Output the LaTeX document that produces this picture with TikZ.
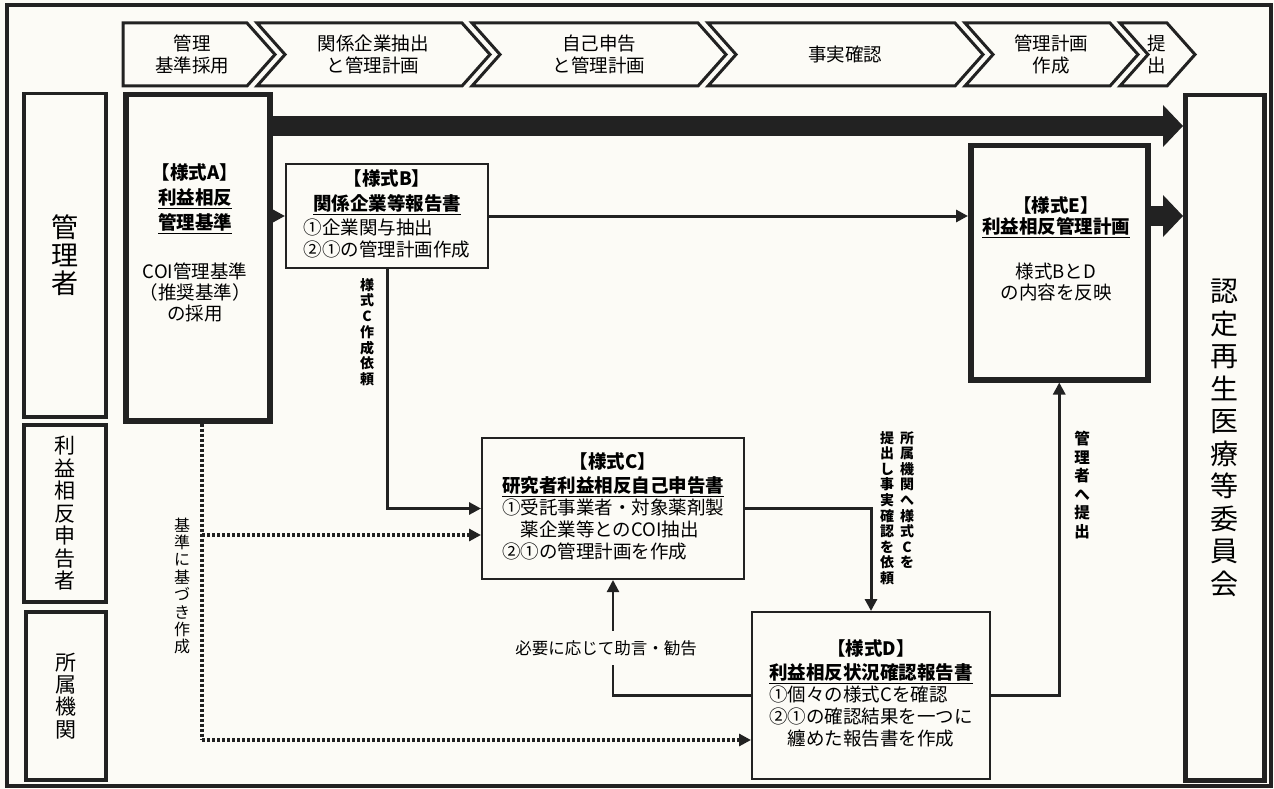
\documentclass[tikz,border=0pt]{standalone}
\usepackage{fontspec}
\setmainfont{Noto Sans CJK JP}
\usetikzlibrary{arrows.meta}
\definecolor{ink}{HTML}{222222}
\definecolor{paper}{HTML}{FCFBF6}

\begin{document}
\begin{tikzpicture}[x=1pt,y=-1pt,
  lane/.style={draw=ink,line width=3.5pt,fill=paper,inner sep=0pt,anchor=north west,align=center},
  formbox/.style={draw=ink,line width=2pt,fill=paper,anchor=north west,font=\fontsize{18.5}{21}\selectfont},
  heavybox/.style={draw=ink,line width=5.5pt,fill=paper,anchor=north west},
  chev/.style={draw=ink,line width=3pt,fill=paper,line join=miter},
  phase/.style={align=center,font=\fontsize{18.5}{22}\selectfont},
  tate/.style={align=center,inner sep=0pt},
  flow/.style={draw=ink,line width=3pt,-{Triangle[length=12pt,width=12pt]}},
  thinflow/.style={draw=ink,line width=2.2pt,-{Triangle[length=12pt,width=12pt]}},
  dotflow/.style={draw=ink,line width=3.4pt,dash pattern=on 3pt off 2pt,-{Triangle[length=12pt,width=12pt]}},
  bigflow/.style={draw=ink,line width=20pt,-{Triangle[length=20pt,width=42pt,line width=0pt]}}]
\fill[paper] (0,0) rectangle (1274,789);
\useasboundingbox (0,0) rectangle (1274,789);
\draw[ink,line width=3.5pt] (7,5) rectangle (1271,786);

% phases
\draw[chev] (123,23) -- (247,23) -- (275,54.5) -- (247,86) -- (123,86) -- cycle;
\draw[chev] (257,23) -- (462,23) -- (490,54.5) -- (462,86) -- (257,86) -- (285,54.5) -- cycle;
\draw[chev] (472,23) -- (698,23) -- (726,54.5) -- (698,86) -- (472,86) -- (500,54.5) -- cycle;
\draw[chev] (708,23) -- (955,23) -- (983,54.5) -- (955,86) -- (708,86) -- (736,54.5) -- cycle;
\draw[chev] (965,23) -- (1110,23) -- (1138,54.5) -- (1110,86) -- (965,86) -- (993,54.5) -- cycle;
\draw[chev] (1120,23) -- (1167,23) -- (1195,54.5) -- (1167,86) -- (1120,86) -- (1148,54.5) -- cycle;
\node[phase] (ph1) at (192,54.5) {管理\\基準採用};
\node[phase] (ph2) at (373,54.5) {関係企業抽出\\と管理計画};
\node[phase] (ph3) at (599,54.5) {自己申告\\と管理計画};
\node[phase] (ph4) at (845,54.5) {事実確認};
\node[phase] (ph5) at (1051,54.5) {管理計画\\作成};
\node[phase] (ph6) at (1157,54.5) {提\\出};

% lanes
\node[lane,minimum width=82pt,minimum height=323pt,font=\fontsize{27}{28}\selectfont] (mgr) at (22,92) {管\\理\\者};
\node[lane,minimum width=82pt,minimum height=177pt,font=\fontsize{21}{22.5}\selectfont] (filer) at (22,423) {利\\益\\相\\反\\申\\告\\者};
\node[lane,minimum width=80pt,minimum height=168pt,font=\fontsize{21}{22.3}\selectfont] (inst) at (24,610) {所\\属\\機\\関};
\node[lane,line width=4.5pt,minimum width=79pt,minimum height=685pt,font=\fontsize{28}{32.5}\selectfont] (board) at (1183,93) {認\\定\\再\\生\\医\\療\\等\\委\\員\\会};

% forms
\node[heavybox,minimum width=144pt,minimum height=326pt] (formA) at (123,92) {};
\node[align=center,font=\fontsize{18.5}{21}\selectfont] (textA) at (195,243)
  {{\bfseries 【様式A】}\\[4pt]{\bfseries\underline{利益相反}}\\[4pt]{\bfseries\underline{管理基準}}\\[28pt]COI管理基準\\（推奨基準）\\の採用};
\node[formbox,minimum width=202pt,minimum height=104pt] (formB) at (285,163)
  {\begin{tabular}{@{}l@{}}
   \multicolumn{1}{@{}c@{}}{\bfseries 【様式B】}\\[3pt]
   \multicolumn{1}{@{}c@{}}{\bfseries\underline{関係企業等報告書}}\\[2pt]
   ①企業関与抽出\\
   ②①の管理計画作成
   \end{tabular}};
\node[formbox,minimum width=262pt,minimum height=141pt] (formC) at (481,437)
  {\begin{tabular}{@{}l@{}}
   \multicolumn{1}{@{}c@{}}{\bfseries 【様式C】}\\[2pt]
   \multicolumn{1}{@{}c@{}}{\bfseries\underline{研究者利益相反自己申告書}}\\
   ①受託事業者・対象薬剤製\\
   \hspace*{1em}薬企業等とのCOI抽出\\
   ②①の管理計画を作成
   \end{tabular}};
\node[formbox,minimum width=238pt,minimum height=167pt] (formD) at (751,611)
  {\begin{tabular}{@{}l@{}}
   \multicolumn{1}{@{}c@{}}{\bfseries 【様式D】}\\[2pt]
   \multicolumn{1}{@{}c@{}}{\bfseries\underline{利益相反状況確認報告書}}\\
   ①個々の様式Cを確認\\
   ②①の確認結果を一つに\\
   \hspace*{1em}纏めた報告書を作成
   \end{tabular}};
\node[heavybox,minimum width=177pt,minimum height=234pt] (formE) at (968,143) {};
\node[align=center,font=\fontsize{18.5}{21}\selectfont] (textE) at (1056,249)
  {{\bfseries 【様式E】}\\{\bfseries\underline{利益相反管理計画}}\\[24pt]様式BとD\\の内容を反映};

% flows
\coordinate (barY) at (0,126);
\coordinate (dotFork) at (202,535);
\coordinate (dotBend) at (202,740);
\draw[bigflow] (formA.east |- barY) -- (board.west |- barY);
\draw[bigflow] (formE.east |- formB.east) -- (board.west |- formB.east);
\draw[dotflow] (formA.east |- formB.west) -- (formB.west);
\draw[flow] (formB.east) -- (formB.east -| formE.west);
\draw[flow] (formB.south) |- (formC.west);
\draw[flow] (formC.east) -| (formD.north);
\draw[flow] (formD.east) -| (formE.south);
\draw[thinflow] (formD.west) -| (formC.south);
\draw[dotflow,-] (formA.south -| dotBend) -- (dotBend);
\draw[dotflow] (dotBend) -- (dotBend -| formD.west);
\draw[dotflow] (dotFork) -- (dotFork -| formC.west);

% labels
\node[tate,font=\bfseries\fontsize{14}{15.7}\selectfont] (reqC) at (367,332) {様\\式\\C\\作\\成\\依\\頼};
\node[tate,font=\fontsize{16}{17.4}\selectfont] (byRule) at (182,586) {基\\準\\に\\基\\づ\\き\\作\\成};
\node[tate,anchor=north,font=\bfseries\fontsize{14}{15.6}\selectfont] (askR) at (907,431) {所\\属\\機\\関\\へ\\様\\式\\C\\を};
\node[tate,anchor=north,font=\bfseries\fontsize{14}{15.6}\selectfont] (askL) at (887,431) {提\\出\\し\\事\\実\\確\\認\\を\\依\\頼};
\node[tate,anchor=north,font=\bfseries\fontsize{15.5}{18.5}\selectfont] (toMgr) at (1082,431) {管\\理\\者\\へ\\提\\出};
\node[fill=paper,inner xsep=2pt,inner ysep=9pt,font=\fontsize{16.5}{18}\selectfont] (advice) at (606,648) {必要に応じて助言・勧告};
\end{tikzpicture}
\end{document}
